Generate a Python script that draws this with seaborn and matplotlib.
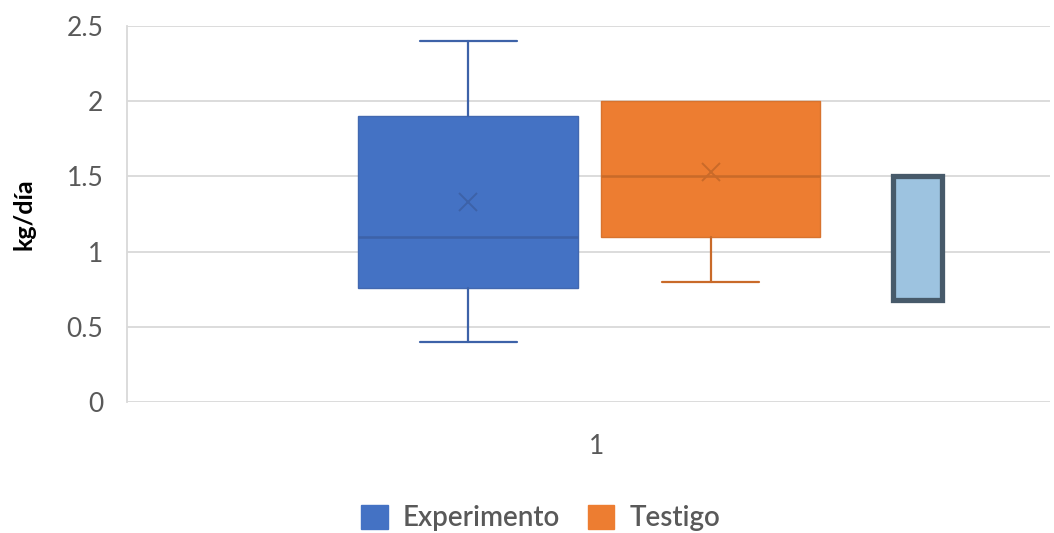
import matplotlib
matplotlib.use("Agg")
import matplotlib.pyplot as plt
import seaborn as sns
from matplotlib.patches import Patch

# ---- data ----
series = ["Experimento", "Testigo", ""]
whislo = [0.40, 0.80, 0.68]
q1 = [0.76, 1.10, 0.68]
med = [1.10, 1.50, 1.50]
q3 = [1.90, 2.00, 1.50]
whishi = [2.40, 2.00, 1.50]
means = [1.33, 1.53, None]
yticks = [0, 0.5, 1, 1.5, 2, 2.5]
ytick_labels = ["0", "0.5", "1", "1.5", "2", "2.5"]
category = "1"

sns.set_theme(style="white")
plt.rcParams["font.family"] = ["Lato", "DejaVu Sans"]

fig = plt.figure(figsize=(10.54, 5.33), dpi=100)
ax = fig.add_axes([0.1205, 0.2458, 0.876, 0.7052])

positions = [0.3695, 0.632, 0.856]
widths = [0.238, 0.238, 0.053]
faces = ["#4472C4", "#ED7D31", "#9DC3E0"]
edges = ["#4268B0", "#D8732E", "#475A6A"]
edge_lw = [1.0, 1.0, 3.8]
line_cols = ["#3D62A8", "#C96A29", "#475A6A"]

for i in range(len(series)):
    st = dict(whislo=whislo[i], q1=q1[i], med=med[i], q3=q3[i],
              whishi=whishi[i], fliers=[])
    show_mean = means[i] is not None
    if show_mean:
        st["mean"] = means[i]
    art = ax.bxp([st], positions=[positions[i]], widths=[widths[i]],
                 patch_artist=True, showmeans=show_mean, showcaps=True,
                 boxprops=dict(facecolor=faces[i], edgecolor=edges[i], linewidth=edge_lw[i]),
                 whiskerprops=dict(color=line_cols[i], linewidth=1.6),
                 capprops=dict(color=line_cols[i], linewidth=1.6),
                 medianprops=dict(color=line_cols[i], linewidth=1.8 if i < 2 else 0.0),
                 meanprops=dict(marker="x", markeredgecolor=line_cols[i],
                                markersize=13, markeredgewidth=1.4),
                 capwidths=[0.105],
                 manage_ticks=False)
    lo_cap, hi_cap = art["caps"]
    if whislo[i] == q1[i]:
        lo_cap.set_visible(False)
    if whishi[i] == q3[i]:
        hi_cap.set_visible(False)

ax.set_xlim(0, 1)
ax.set_ylim(0, 2.5)
ax.set_yticks(yticks)
ax.set_yticklabels(ytick_labels, fontsize=19, color="#595959")
ax.set_xticks([0.508])
ax.set_xticklabels([category], fontsize=19, color="#595959")
ax.tick_params(axis="x", length=0, pad=23)
ax.tick_params(axis="y", length=0, pad=17)
ax.yaxis.grid(True, color="#D9D9D9", linewidth=1.3)
ax.set_axisbelow(True)
for s in ["top", "right", "bottom"]:
    ax.spines[s].set_visible(False)
ax.spines["left"].set_color("#D9D9D9")
ax.spines["left"].set_linewidth(1.3)

ax.set_ylabel("kg/día", fontsize=18, fontweight="bold", color="#000000", labelpad=22)

handles = [Patch(facecolor=faces[0], edgecolor=faces[0]),
           Patch(facecolor=faces[1], edgecolor=faces[1])]
leg = fig.legend(handles, series[:2], loc="center", bbox_to_anchor=(0.513, 0.028),
                 ncol=2, frameon=False, fontsize=20, labelcolor="#595959",
                 handlelength=0.95, handleheight=0.95, handletextpad=0.55, columnspacing=1.0)
for t in leg.get_texts():
    t.set_fontweight("semibold")

fig.savefig("out.png", dpi=100)
